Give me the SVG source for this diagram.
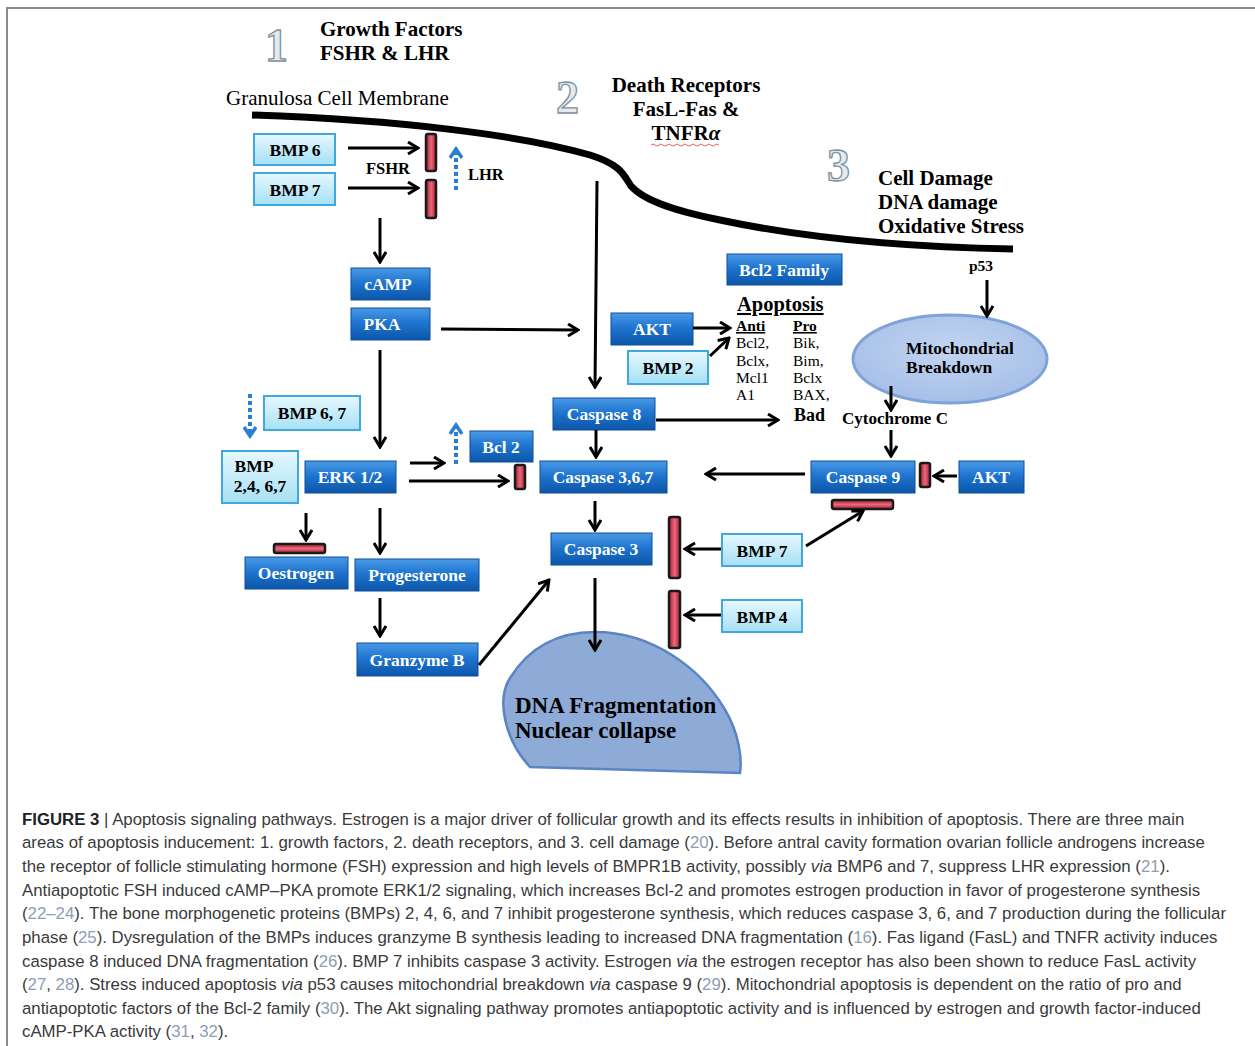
<svg xmlns="http://www.w3.org/2000/svg" width="1255" height="1046" viewBox="0 0 1255 1046">
<defs>
<linearGradient id="gDark" x1="0" y1="0" x2="0" y2="1">
<stop offset="0" stop-color="#4a9ae6"/><stop offset="0.45" stop-color="#1f75d0"/><stop offset="1" stop-color="#0c56a8"/>
</linearGradient>
<linearGradient id="gLight" x1="0" y1="0" x2="0" y2="1">
<stop offset="0" stop-color="#e6f8fe"/><stop offset="1" stop-color="#a6e0f5"/>
</linearGradient>
<linearGradient id="gRed" x1="0" y1="0" x2="1" y2="0">
<stop offset="0" stop-color="#a8182e"/><stop offset="0.5" stop-color="#e86a7c"/><stop offset="1" stop-color="#b01a30"/>
</linearGradient>
<linearGradient id="gRedH" x1="0" y1="0" x2="0" y2="1">
<stop offset="0" stop-color="#a8182e"/><stop offset="0.5" stop-color="#e86a7c"/><stop offset="1" stop-color="#b01a30"/>
</linearGradient>
<radialGradient id="gMito" cx="0.5" cy="0.4" r="0.6">
<stop offset="0" stop-color="#c2d4f0"/><stop offset="1" stop-color="#a6bfe8"/>
</radialGradient>
<marker id="ah" viewBox="0 0 14 14" markerWidth="14" markerHeight="14" refX="12" refY="7" orient="auto" markerUnits="userSpaceOnUse">
<path d="M2,1 L12,7 L2,13" fill="none" stroke="#000" stroke-width="3"/>
</marker>
<marker id="ahb" viewBox="0 0 14 14" markerWidth="14" markerHeight="14" refX="11" refY="7" orient="auto" markerUnits="userSpaceOnUse">
<path d="M2,1 L11,7 L2,13" fill="none" stroke="#2a7fd4" stroke-width="3.5"/>
</marker>
</defs>
<style>
.dark rect{fill:url(#gDark);stroke:#0d4f9a;stroke-width:1}
.dark text{fill:#fff;font-family:"Liberation Serif",serif;font-weight:bold;font-size:17.5px;text-anchor:middle}
.light rect{fill:url(#gLight);stroke:#3fa8dc;stroke-width:2}
.light text{fill:#000;font-family:"Liberation Serif",serif;font-weight:bold;font-size:17.5px;text-anchor:middle}
.bar{fill:url(#gRed);stroke:#1a1a1a;stroke-width:2.5}
.barh{fill:url(#gRedH);stroke:#1a1a1a;stroke-width:2.5}
.conn line,.conn path{stroke:#000;stroke-width:3;fill:none}
.conn .dot{stroke:#2a7fd4;stroke-width:4;stroke-dasharray:4 3}
.lbl{font-family:"Liberation Serif",serif;font-weight:bold;fill:#000}
.num{font-family:"Liberation Serif",serif;font-size:46px;font-weight:bold;fill:#e4eaf0;stroke:#7f8f9f;stroke-width:1.3}
.cap{font-family:"Liberation Sans",Arial,sans-serif;font-size:16.8px;fill:#3a3a3a}
.ref{fill:#8c9db5}
</style>
<rect x="0" y="0" width="1255" height="1046" fill="#fff"/>
<path d="M7,1046 L7,8 L1255,8" fill="none" stroke="#8a8a8a" stroke-width="2"/>

<!-- membrane -->
<path d="M252,115 C400,120 520,135 590,155 C622,165 624,176 631,186 C645,202 680,212 720,220 C800,237 900,247 1013,249" fill="none" stroke="#000" stroke-width="7"/>

<!-- headings -->
<text class="num" x="265" y="61">1</text>
<text class="num" x="556" y="113">2</text>
<text class="num" x="827" y="181">3</text>
<g id="head1" class="lbl" font-size="21">
<text x="320" y="36">Growth Factors</text>
<text x="320" y="60">FSHR &amp; LHR</text>
</g>
<text x="226" y="105" font-family="Liberation Serif,serif" font-size="21" fill="#000">Granulosa Cell Membrane</text>
<g id="head2" class="lbl" font-size="21" text-anchor="middle">
<text x="686" y="92">Death Receptors</text>
<text x="686" y="116">FasL-Fas &amp;</text>
<text x="686" y="140">TNFR<tspan font-style="italic">α</tspan></text>
</g>
<path d="M651,145 q2,-2 4,0 t4,0 t4,0 t4,0 t4,0 t4,0 t4,0 t4,0 t4,0 t4,0 t4,0 t4,0 t4,0 t4,0 t4,0 t4,0 t4,0" fill="none" stroke="#d04040" stroke-width="0.8"/>
<g id="head3" class="lbl" font-size="21">
<text x="878" y="185">Cell Damage</text>
<text x="878" y="209">DNA damage</text>
<text x="878" y="233">Oxidative Stress</text>
</g>
<text class="lbl" x="969" y="271" font-size="15.5">p53</text>
<text class="lbl" x="366" y="174" font-size="16.5">FSHR</text>
<text class="lbl" x="468" y="180" font-size="16.5">LHR</text>

<!-- Apoptosis list -->
<g id="apoptosis">
<text class="lbl" x="737" y="311" font-size="20.5" text-decoration="underline">Apoptosis</text>
<text class="lbl" x="736" y="331" font-size="15.5" text-decoration="underline">Anti</text>
<text class="lbl" x="793" y="331" font-size="15.5" text-decoration="underline">Pro</text>
<g font-family="Liberation Serif,serif" font-size="15.5" fill="#000">
<text x="736" y="348">Bcl2,</text>
<text x="736" y="366">Bclx,</text>
<text x="736" y="383">Mcl1</text>
<text x="736" y="400">A1</text>
<text x="793" y="348">Bik,</text>
<text x="793" y="366">Bim,</text>
<text x="793" y="383">Bclx</text>
<text x="793" y="400">BAX,</text>
</g>
<text class="lbl" x="794" y="421" font-size="18">Bad</text>
</g>
<text class="lbl" x="842" y="424" font-size="17">Cytochrome C</text>

<!-- Mitochondrial -->
<g id="mito">
<ellipse cx="950" cy="359" rx="97" ry="44" fill="url(#gMito)" stroke="#7fa3d8" stroke-width="3"/>
<text class="lbl" x="906" y="354" font-size="17.5">Mitochondrial</text>
<text class="lbl" x="906" y="373" font-size="17.5">Breakdown</text>
</g>

<!-- DNA fragmentation -->
<g id="dna">
<path d="M530,767 C505,740 496,700 510,678 C530,646 560,632 595,632 C652,632 700,668 724,708 C740,734 742,760 740,773 Z" fill="#8eaad6" stroke="#5b84c4" stroke-width="2.5"/>
<text class="lbl" x="515" y="713" font-size="23">DNA Fragmentation</text>
<text class="lbl" x="515" y="738" font-size="23">Nuclear collapse</text>
</g>

<!-- dark nodes -->
<g id="camp" class="dark"><rect x="351" y="268" width="79" height="32"/><text x="388" y="290">cAMP</text></g>
<g id="pka" class="dark"><rect x="351" y="308" width="79" height="32"/><text x="382" y="330">PKA</text></g>
<g id="bcl2fam" class="dark"><rect x="727" y="254" width="115" height="31"/><text x="784" y="276">Bcl2 Family</text></g>
<g id="akt1" class="dark"><rect x="611" y="313" width="82" height="32"/><text x="652" y="335">AKT</text></g>
<g id="casp8" class="dark"><rect x="553" y="398" width="102" height="32"/><text x="604" y="420">Caspase 8</text></g>
<g id="bcl2" class="dark"><rect x="470" y="431" width="63" height="31"/><text x="501" y="453">Bcl 2</text></g>
<g id="erk" class="dark"><rect x="305" y="461" width="91" height="32"/><text x="350" y="483">ERK 1/2</text></g>
<g id="casp367" class="dark"><rect x="540" y="461" width="127" height="32"/><text x="603" y="483">Caspase 3,6,7</text></g>
<g id="casp9" class="dark"><rect x="811" y="461" width="104" height="32"/><text x="863" y="483">Caspase  9</text></g>
<g id="akt2" class="dark"><rect x="959" y="461" width="65" height="32"/><text x="991" y="483">AKT</text></g>
<g id="casp3" class="dark"><rect x="551" y="533" width="101" height="32"/><text x="601" y="555">Caspase 3</text></g>
<g id="oest" class="dark"><rect x="245" y="557" width="103" height="32"/><text x="296" y="579">Oestrogen</text></g>
<g id="prog" class="dark"><rect x="355" y="559" width="124" height="32"/><text x="417" y="581">Progesterone</text></g>
<g id="granz" class="dark"><rect x="357" y="643" width="121" height="33"/><text x="417" y="666">Granzyme B</text></g>

<!-- light nodes -->
<g id="bmp6" class="light"><rect x="254" y="134" width="81" height="31"/><text x="295" y="156">BMP 6</text></g>
<g id="bmp7a" class="light"><rect x="254" y="173" width="81" height="32"/><text x="295" y="196">BMP 7</text></g>
<g id="bmp2" class="light"><rect x="628" y="351" width="80" height="33"/><text x="668" y="374">BMP 2</text></g>
<g id="bmp67" class="light"><rect x="264" y="396" width="96" height="34"/><text x="312" y="419">BMP 6, 7</text></g>
<g id="bmp2467" class="light"><rect x="222" y="451" width="76" height="52"/><text x="254" y="472" font-size="15.5">BMP</text><text x="260" y="492" font-size="15.5">2,4, 6,7</text></g>
<g id="bmp7b" class="light"><rect x="722" y="534" width="80" height="32"/><text x="762" y="557">BMP 7</text></g>
<g id="bmp4" class="light"><rect x="722" y="600" width="80" height="32"/><text x="762" y="623">BMP 4</text></g>

<!-- inhibitor bars -->
<g id="bars">
<rect class="bar" x="426" y="134" width="10" height="37" rx="2"/>
<rect class="bar" x="426" y="180" width="10" height="38" rx="2"/>
<rect class="bar" x="515" y="465" width="10" height="24" rx="2"/>
<rect class="barh" x="274" y="544" width="51" height="9" rx="2"/>
<rect class="bar" x="920" y="463" width="10" height="24" rx="2"/>
<rect class="barh" x="832" y="500" width="61" height="9" rx="2"/>
<rect class="bar" x="669" y="517" width="11" height="61" rx="2"/>
<rect class="bar" x="669" y="591" width="11" height="57" rx="2"/>
</g>

<!-- connectors -->
<g id="connectors" class="conn">
<line x1="348" y1="148" x2="418" y2="148" marker-end="url(#ah)"/>
<line x1="348" y1="188" x2="418" y2="188" marker-end="url(#ah)"/>
<line class="dot" x1="456" y1="190" x2="456" y2="149" marker-end="url(#ahb)"/>
<line x1="380" y1="218" x2="380" y2="262" marker-end="url(#ah)"/>
<line x1="441" y1="329" x2="578" y2="330" marker-end="url(#ah)"/>
<line x1="380" y1="350" x2="380" y2="447" marker-end="url(#ah)"/>
<line x1="597" y1="181" x2="595" y2="387" marker-end="url(#ah)"/>
<line x1="693" y1="328" x2="730" y2="328" marker-end="url(#ah)"/>
<line x1="710" y1="356" x2="729" y2="338" marker-end="url(#ah)"/>
<line x1="656" y1="420" x2="778" y2="420" marker-end="url(#ah)"/>
<line x1="596" y1="430" x2="596" y2="457" marker-end="url(#ah)"/>
<line x1="987" y1="280" x2="987" y2="316" marker-end="url(#ah)"/>
<line x1="891" y1="386" x2="891" y2="410" marker-end="url(#ah)"/>
<line x1="891" y1="430" x2="891" y2="456" marker-end="url(#ah)"/>
<line x1="805" y1="474" x2="706" y2="474" marker-end="url(#ah)"/>
<line x1="957" y1="476" x2="934" y2="476" marker-end="url(#ah)"/>
<line class="dot" x1="250" y1="394" x2="250" y2="436" marker-end="url(#ahb)"/>
<line x1="410" y1="463" x2="444" y2="463" marker-end="url(#ah)"/>
<line class="dot" x1="456" y1="464" x2="456" y2="425" marker-end="url(#ahb)"/>
<line x1="409" y1="481" x2="508" y2="481" marker-end="url(#ah)"/>
<line x1="306" y1="513" x2="306" y2="540" marker-end="url(#ah)"/>
<line x1="380" y1="508" x2="380" y2="553" marker-end="url(#ah)"/>
<line x1="595" y1="501" x2="595" y2="530" marker-end="url(#ah)"/>
<line x1="380" y1="598" x2="380" y2="636" marker-end="url(#ah)"/>
<line x1="479" y1="665" x2="549" y2="580" marker-end="url(#ah)"/>
<line x1="595" y1="578" x2="595" y2="650" marker-end="url(#ah)"/>
<line x1="721" y1="549" x2="685" y2="549" marker-end="url(#ah)"/>
<line x1="806" y1="546" x2="863" y2="511" marker-end="url(#ah)"/>
<line x1="721" y1="615" x2="685" y2="615" marker-end="url(#ah)"/>
</g>

<!-- caption -->
<g id="caption" class="cap">
<text x="22" y="825"><tspan font-weight="bold" fill="#222">FIGURE 3</tspan> | Apoptosis signaling pathways. Estrogen is a major driver of follicular growth and its effects results in inhibition of apoptosis. There are three main</text>
<text x="22" y="848">areas of apoptosis inducement: 1. growth factors, 2. death receptors, and 3. cell damage (<tspan class="ref">20</tspan>). Before antral cavity formation ovarian follicle androgens increase</text>
<text x="22" y="872">the receptor of follicle stimulating hormone (FSH) expression and high levels of BMPR1B activity, possibly <tspan font-style="italic">via</tspan> BMP6 and 7, suppress LHR expression (<tspan class="ref">21</tspan>).</text>
<text x="22" y="896">Antiapoptotic FSH induced cAMP–PKA promote ERK1/2 signaling, which increases Bcl-2 and promotes estrogen production in favor of progesterone synthesis</text>
<text x="22" y="919">(<tspan class="ref">22–24</tspan>). The bone morphogenetic proteins (BMPs) 2, 4, 6, and 7 inhibit progesterone synthesis, which reduces caspase 3, 6, and 7 production during the follicular</text>
<text x="22" y="943">phase (<tspan class="ref">25</tspan>). Dysregulation of the BMPs induces granzyme B synthesis leading to increased DNA fragmentation (<tspan class="ref">16</tspan>). Fas ligand (FasL) and TNFR activity induces</text>
<text x="22" y="967">caspase 8 induced DNA fragmentation (<tspan class="ref">26</tspan>). BMP 7 inhibits caspase 3 activity. Estrogen <tspan font-style="italic">via</tspan> the estrogen receptor has also been shown to reduce FasL activity</text>
<text x="22" y="990">(<tspan class="ref">27</tspan>, <tspan class="ref">28</tspan>). Stress induced apoptosis <tspan font-style="italic">via</tspan> p53 causes mitochondrial breakdown <tspan font-style="italic">via</tspan> caspase 9 (<tspan class="ref">29</tspan>). Mitochondrial apoptosis is dependent on the ratio of pro and</text>
<text x="22" y="1014">antiapoptotic factors of the Bcl-2 family (<tspan class="ref">30</tspan>). The Akt signaling pathway promotes antiapoptotic activity and is influenced by estrogen and growth factor-induced</text>
<text x="22" y="1037">cAMP-PKA activity (<tspan class="ref">31</tspan>, <tspan class="ref">32</tspan>).</text>
</g>
</svg>
